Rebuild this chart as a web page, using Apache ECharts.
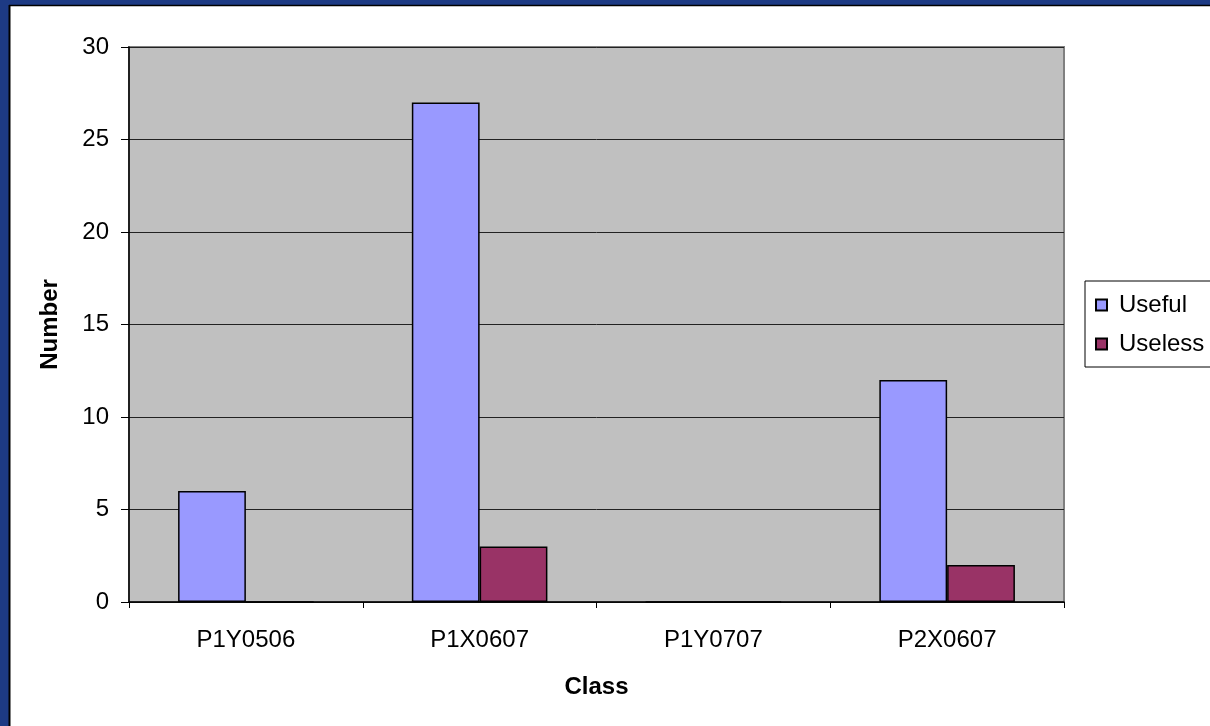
<!DOCTYPE html>
<html>
<head>
<meta charset="utf-8">
<script src="https://cdn.jsdelivr.net/npm/echarts@6/dist/echarts.min.js"></script>
<style>
  html, body { margin: 0; padding: 0; background: #fff; }
  #chart { width: 1210px; height: 726px; }
</style>
</head>
<body>
<div id="chart"></div>
<script>
// Classes along the horizontal axis
const classes = ['P1Y0506', 'P1X0607', 'P1Y0707', 'P2X0607'];
// Counts per class
const useful = [6, 27, 0, 12];
const useless = [0, 3, 0, 2];
// Vertical axis range
const yMin = 0, yMax = 30, yStep = 5;

const FONT = 'Liberation Sans, Arial, sans-serif';
const chart = echarts.init(document.getElementById('chart'));

chart.setOption({
  backgroundColor: '#ffffff',
  animation: false,
  textStyle: { fontFamily: FONT, color: '#000' },
  graphic: [
    // slide frame: blue strips along the left and top edges
    { type: 'rect', shape: { x: 0, y: 0, width: 9, height: 726 }, style: { fill: '#1d3a84' }, silent: true },
    { type: 'rect', shape: { x: 0, y: 0, width: 1210, height: 5 }, style: { fill: '#1d3a84' }, silent: true },
    { type: 'line', shape: { x1: 9.5, y1: 5, x2: 9.5, y2: 726 }, style: { stroke: '#000', lineWidth: 2 }, silent: true },
    { type: 'line', shape: { x1: 9, y1: 5.5, x2: 1210, y2: 5.5 }, style: { stroke: '#000', lineWidth: 1.5 }, silent: true }
  ],
  grid: {
    left: 129, top: 47, right: 146, bottom: 124,
    show: true, backgroundColor: '#c0c0c0', borderColor: '#808080', borderWidth: 2
  },
  legend: {
    orient: 'vertical',
    left: 1085, top: 281,
    padding: [12, 12, 11, 10],
    itemGap: 15,
    itemWidth: 11, itemHeight: 11,
    borderColor: '#000', borderWidth: 1,
    icon: 'rect',
    textStyle: { fontFamily: FONT, fontSize: 24, color: '#000', padding: [0, 0, 0, 7] },
    data: ['Useful', 'Useless']
  },
  xAxis: {
    type: 'category',
    data: classes,
    name: 'Class',
    nameLocation: 'middle',
    nameGap: 73,
    nameTextStyle: { fontFamily: FONT, fontSize: 24, fontWeight: 'bold', color: '#000' },
    axisLine: { lineStyle: { color: '#000', width: 1.5 } },
    axisTick: { show: true, length: 6, interval: 0, lineStyle: { color: '#000' } },
    axisLabel: { fontFamily: FONT, fontSize: 24, color: '#000', margin: 26 },
    splitLine: { show: false }
  },
  yAxis: {
    type: 'value',
    min: yMin, max: yMax, interval: yStep,
    name: 'Number',
    nameLocation: 'middle',
    nameRotate: 90,
    nameGap: 67,
    nameTextStyle: { fontFamily: FONT, fontSize: 24, fontWeight: 'bold', color: '#000' },
    axisLine: { show: true, lineStyle: { color: '#000', width: 1.5 } },
    axisTick: { show: true, length: 8, lineStyle: { color: '#000' } },
    axisLabel: { fontFamily: FONT, fontSize: 24, color: '#000', margin: 20 },
    splitLine: { show: true, lineStyle: { color: '#222', width: 1 } }
  },
  series: [
    {
      name: 'Useful', type: 'bar', data: useful,
      barGap: '0%', barCategoryGap: '42%',
      itemStyle: { color: '#9999ff', borderColor: '#000', borderWidth: 1.5 }
    },
    {
      name: 'Useless', type: 'bar', data: useless,
      itemStyle: { color: '#993366', borderColor: '#000', borderWidth: 1.5 }
    }
  ]
});
</script>
</body>
</html>
